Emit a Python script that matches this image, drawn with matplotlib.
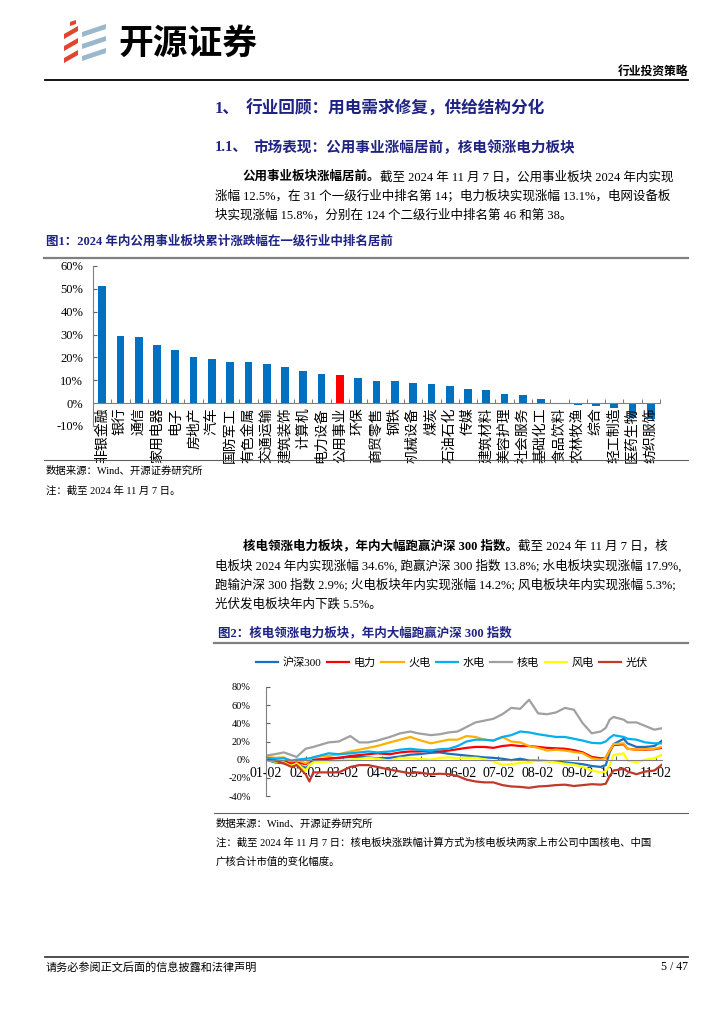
import matplotlib
matplotlib.use('Agg')
import matplotlib.pyplot as plt
from matplotlib.patches import Polygon
import numpy as np
import pandas as pd

plt.rcParams['font.family'] = ['Liberation Serif', 'Noto Sans CJK SC']
plt.rcParams['axes.unicode_minus'] = False

W, H = 724, 1024
NAVY = '#1f2383'

# ---------------- figure 1: industry returns 2024 ----------------
industries = ['非银金融', '银行', '通信', '家用电器', '电子', '房地产', '汽车', '国防军工',
              '有色金属', '交通运输', '建筑装饰', '计算机', '电力设备', '公用事业', '环保',
              '商贸零售', '钢铁', '机械设备', '煤炭', '石油石化', '传媒', '建筑材料',
              '美容护理', '社会服务', '基础化工', '食品饮料', '农林牧渔', '综合', '轻工制造',
              '医药生物', '纺织服饰']
returns = [51.3, 29.5, 29.0, 25.5, 23.2, 20.4, 19.4, 18.2, 17.8, 17.2, 16.0, 14.0, 12.6,
           12.5, 10.9, 9.8, 9.5, 8.8, 8.5, 7.5, 6.3, 5.8, 3.8, 3.5, 1.9, 0.1, -1.0, -1.3,
           -2.3, -6.4, -6.9]

# ---------------- figure 2: power sub-sectors vs CSI300 ----------------
dates = ['01-02', '01-09', '01-16', '01-22', '01-26', '02-02', '02-05', '02-08', '02-20',
         '02-28', '03-08', '03-15', '03-22', '03-29', '04-08', '04-16', '04-24', '04-30',
         '05-10', '05-17', '05-24', '05-31', '06-07', '06-14', '06-21', '06-28', '07-05',
         '07-12', '07-19', '07-26', '08-02', '08-09', '08-16', '08-23', '08-30', '09-06',
         '09-13', '09-20', '09-24', '09-27', '09-30', '10-08', '10-11', '10-18', '10-25',
         '11-01', '11-07']
hs300 = [0, -3, -4, -7, -5, -9, -6, -1, 1.5, 2, 3, 3, 2.5, 1.5, 2, 3.5, 5.5, 6, 7.5, 8, 6.5,
         5.5, 4.5, 3.5, 2.5, 2, 1, -0.5, 1, -1, -1, -1.5, -2, -3, -4, -5, -7, -8, -6, 8, 17,
         23, 18, 14, 14, 15, 20.8]
power = [0, -1, -2, -4, -3, -5, -2, 0, 1, 2, 4, 5, 6, 7, 6, 8, 9, 9, 10, 9, 10, 11.5, 13, 14,
         14, 13, 15, 16, 15, 15, 14, 13, 12.5, 12, 10.5, 8, 3, 1.5, 2, 10, 16, 17, 12, 11, 11,
         11.5, 13.1]
thermal = [3, 2, 2.5, -2, 0, -4, -1, 3, 4, 6, 9, 11, 13, 15, 19, 22, 25, 22, 18, 20, 22, 22,
           26, 25, 22, 21, 25, 20, 19, 15, 13, 10, 11, 10, 8.5, 7, 1.5, 0, 2, 10, 17, 18, 12,
           11, 11.5, 12, 14.2]
hydro = [2, 1, 1.5, -1, 0, 1, 1.5, 2.5, 7, 6, 7, 8, 9, 8, 9, 11, 12, 11, 10, 11.5, 12, 15, 20,
         22, 22, 21, 25, 27, 31, 30, 28, 26.5, 25, 25, 23, 21, 18.5, 18, 20, 24, 27, 25, 23,
         22, 19, 18, 17.9]
nuclear = [4.5, 6, 8, 5, 3, 12, 13, 14, 19, 20, 26, 19, 19, 21, 25, 29, 31, 29, 27, 28, 30,
           31, 36, 41, 43, 45, 50, 57, 56, 66, 51, 50, 52, 57, 55, 40, 29, 31, 35, 44, 47, 44,
           41, 41, 37, 33, 34.6]
wind = [0, -2, -3, -7, -4, -12, -6, -3, -2, -1, 0, 1, 2, 1, -1, 2, 2, 1, 0, 2, 2.5, 1.5, 2, 2,
        0.5, -2, -5.5, -5, -3.5, -3, -1, -2, -3, -4.5, -5.5, -8, -12, -14, -13, -6, 5, 7, -1,
        -3, 0, 1.5, 5.3]
solar = [0, -1, -4, -8, -6, -16, -24, -14, -14, -14, -8, -6, -6, -8, -11, -13, -15, -14, -16,
         -15.5, -16, -18, -22, -24, -25, -25, -28, -29.5, -30, -31, -29.5, -29, -28, -27.5,
         -29, -28, -27, -27.5, -26.5, -18, -12, -10, -13, -16, -13, -12, -5.5]
series_names = ['沪深300', '电力', '火电', '水电', '核电', '风电', '光伏']
series_colors = ['#1a6fc0', '#ff0000', '#ffb000', '#00b0f0', '#a0a0a0', '#ffff00', '#c0392b']
month_ticks = ['01-02', '02-02', '03-02', '04-02', '05-02', '06-02', '07-02', '08-02',
               '09-02', '10-02', '11-02']

fig = plt.figure(figsize=(W / 100, H / 100), dpi=100)
renderer = fig.canvas.get_renderer()


def put(x, y, s, size=9, bold=False, color='black', **kw):
    return fig.text(x / W, 1 - y / H, s, fontsize=size, color=color,
                    fontweight='bold' if bold else 'normal', va='center', **kw)


def rich(x, y, parts, size=9):
    for s, bold in parts:
        t = put(x, y, s, size, bold)
        x += t.get_window_extent(renderer).width


def hline(y, x0, x1, color, lw):
    fig.add_artist(plt.Line2D([x0 / W, x1 / W], [1 - y / H, 1 - y / H], color=color, lw=lw))


def poly(pts, color):
    fig.add_artist(Polygon([(px / W, 1 - py / H) for px, py in pts], closed=True,
                           facecolor=color, edgecolor='none', transform=fig.transFigure))


# ---------------- header ----------------
for dy in (0, 12, 24):
    poly([(64, 34 + dy), (78, 26 + dy), (78, 31 + dy), (64, 39 + dy)], '#e0452f')
poly([(70, 22), (76, 20), (76, 24), (70, 26)], '#e0452f')
for dy in (0, 12, 24):
    poly([(82, 32 + dy), (106, 24 + dy), (106, 29 + dy), (82, 37 + dy)], '#9ab8cc')
fig.text(118 / W, 1 - 43 / H, '开源证券', fontsize=25, fontweight='heavy',
         family='Noto Sans CJK SC', va='center')
put(688, 72, '行业投资策略', 8.5, True, ha='right')
hline(80, 45, 688, 'black', 1.3)

# ---------------- section text ----------------
put(215, 109, '1、', 12, True, NAVY)
put(246, 109, '行业回顾：用电需求修复，供给结构分化', 12, True, NAVY)
put(215, 148, '1.1、', 10.5, True, NAVY)
put(253, 148, '市场表现：公用事业涨幅居前，核电领涨电力板块', 10.5, True, NAVY)

rich(243, 177, [('公用事业板块涨幅居前。', True),
                ('截至 2024 年 11 月 7 日，公用事业板块 2024 年内实现', False)])
rich(215, 196, [('涨幅 12.5%，在 31 个一级行业中排名第 14；电力板块实现涨幅 13.1%，电网设备板', False)])
rich(215, 215, [('块实现涨幅 15.8%，分别在 124 个二级行业中排名第 46 和第 38。', False)])

put(46, 241, '图1：2024 年内公用事业板块累计涨跌幅在一级行业中排名居前', 9, True, NAVY)
hline(258, 44, 688, '#808080', 1.6)

# ---------------- chart 1 ----------------
ax1 = fig.add_axes([93 / W, 1 - 426 / H, 567 / W, 160 / H])
xpos = np.arange(len(industries))
bar_colors = ['#ff0000' if n == '公用事业' else '#0070c0' for n in industries]
ax1.bar(xpos, returns, width=0.42, color=bar_colors)
ax1.set_xlim(-0.5, len(industries) - 0.5)
ax1.set_ylim(-10, 60)
ax1.set_yticks(range(-10, 61, 10))
ax1.set_yticklabels([f'{v}%' for v in range(-10, 61, 10)], fontsize=9)
ax1.set_xticks(np.arange(-0.5, len(industries), 1), minor=True)
ax1.set_xticks(xpos)
ax1.set_xticklabels(industries, fontsize=7.8)
ax1.tick_params(axis='x', which='major', length=0, pad=3, labelrotation=90)
ax1.tick_params(axis='x', which='minor', direction='in', length=3, color='#606060')
ax1.tick_params(axis='y', direction='in', length=3, color='#606060', pad=7)
for s in ('top', 'right'):
    ax1.spines[s].set_visible(False)
ax1.spines['bottom'].set_position(('data', 0))
ax1.spines['bottom'].set_color('#808080')
ax1.spines['left'].set_color('#808080')
ax1.patch.set_alpha(0)

hline(460, 44, 688, '#606060', 0.8)
put(46, 471, '数据来源：Wind、开源证券研究所', 7.5)
put(46, 491, '注：截至 2024 年 11 月 7 日。', 7.5)

# ---------------- paragraph 2 ----------------
rich(243, 546, [('核电领涨电力板块，年内大幅跑赢沪深 300 指数。', True),
                ('截至 2024 年 11 月 7 日，核', False)])
rich(215, 566, [('电板块 2024 年内实现涨幅 34.6%, 跑赢沪深 300 指数 13.8%; 水电板块实现涨幅 17.9%,', False)])
rich(215, 585, [('跑输沪深 300 指数 2.9%; 火电板块年内实现涨幅 14.2%; 风电板块年内实现涨幅 5.3%;', False)])
rich(215, 604, [('光伏发电板块年内下跌 5.5%。', False)])

put(218, 633, '图2：核电领涨电力板块，年内大幅跑赢沪深 300 指数', 9, True, NAVY)
hline(643, 214, 688, '#808080', 1.6)

# ---------------- chart 2 ----------------
ax2 = fig.add_axes([266 / W, 1 - 796 / H, 396 / W, 109 / H])
d = pd.to_datetime(['2024-' + s for s in dates])
handles = []
for vals, name, c in zip([hs300, power, thermal, hydro, nuclear, wind, solar],
                         series_names, series_colors):
    h, = ax2.plot(d, vals, color=c, lw=1.6, label=name)
    handles.append(h)
ax2.set_xlim(d[0], d[-1])
ax2.set_ylim(-40, 80)
ax2.set_yticks(range(-40, 81, 20))
ax2.set_yticklabels([f'{v}%' for v in range(-40, 81, 20)], fontsize=7.5)
ax2.set_xticks(pd.to_datetime(['2024-' + s for s in month_ticks]))
ax2.set_xticklabels(month_ticks, fontsize=7.2)
ax2.tick_params(axis='x', direction='in', length=3, color='#606060', pad=5)
ax2.tick_params(axis='y', direction='in', length=3, color='#606060', pad=11)
for s in ('top', 'right'):
    ax2.spines[s].set_visible(False)
ax2.spines['bottom'].set_position(('data', 0))
ax2.spines['bottom'].set_color('#808080')
ax2.spines['left'].set_color('#808080')
ax2.patch.set_alpha(0)
fig.legend(handles, series_names, loc='center', bbox_to_anchor=(452 / W, 1 - 663 / H),
           ncol=7, frameon=False, fontsize=8, handlelength=2.0, columnspacing=0.5,
           handletextpad=0.4)

hline(813, 214, 688, '#606060', 0.8)
put(216, 824, '数据来源：Wind、开源证券研究所', 7.5)
put(216, 843, '注：截至 2024 年 11 月 7 日：核电板块涨跌幅计算方式为核电板块两家上市公司中国核电、中国', 7.5)
put(216, 862, '广核合计市值的变化幅度。', 7.5)

# ---------------- footer ----------------
hline(957, 45, 688, '#404040', 1.3)
put(46, 967, '请务必参阅正文后面的信息披露和法律声明', 8)
put(688, 967, '5 / 47', 8.5, ha='right')

fig.savefig('out.png', dpi=100, facecolor='white')
